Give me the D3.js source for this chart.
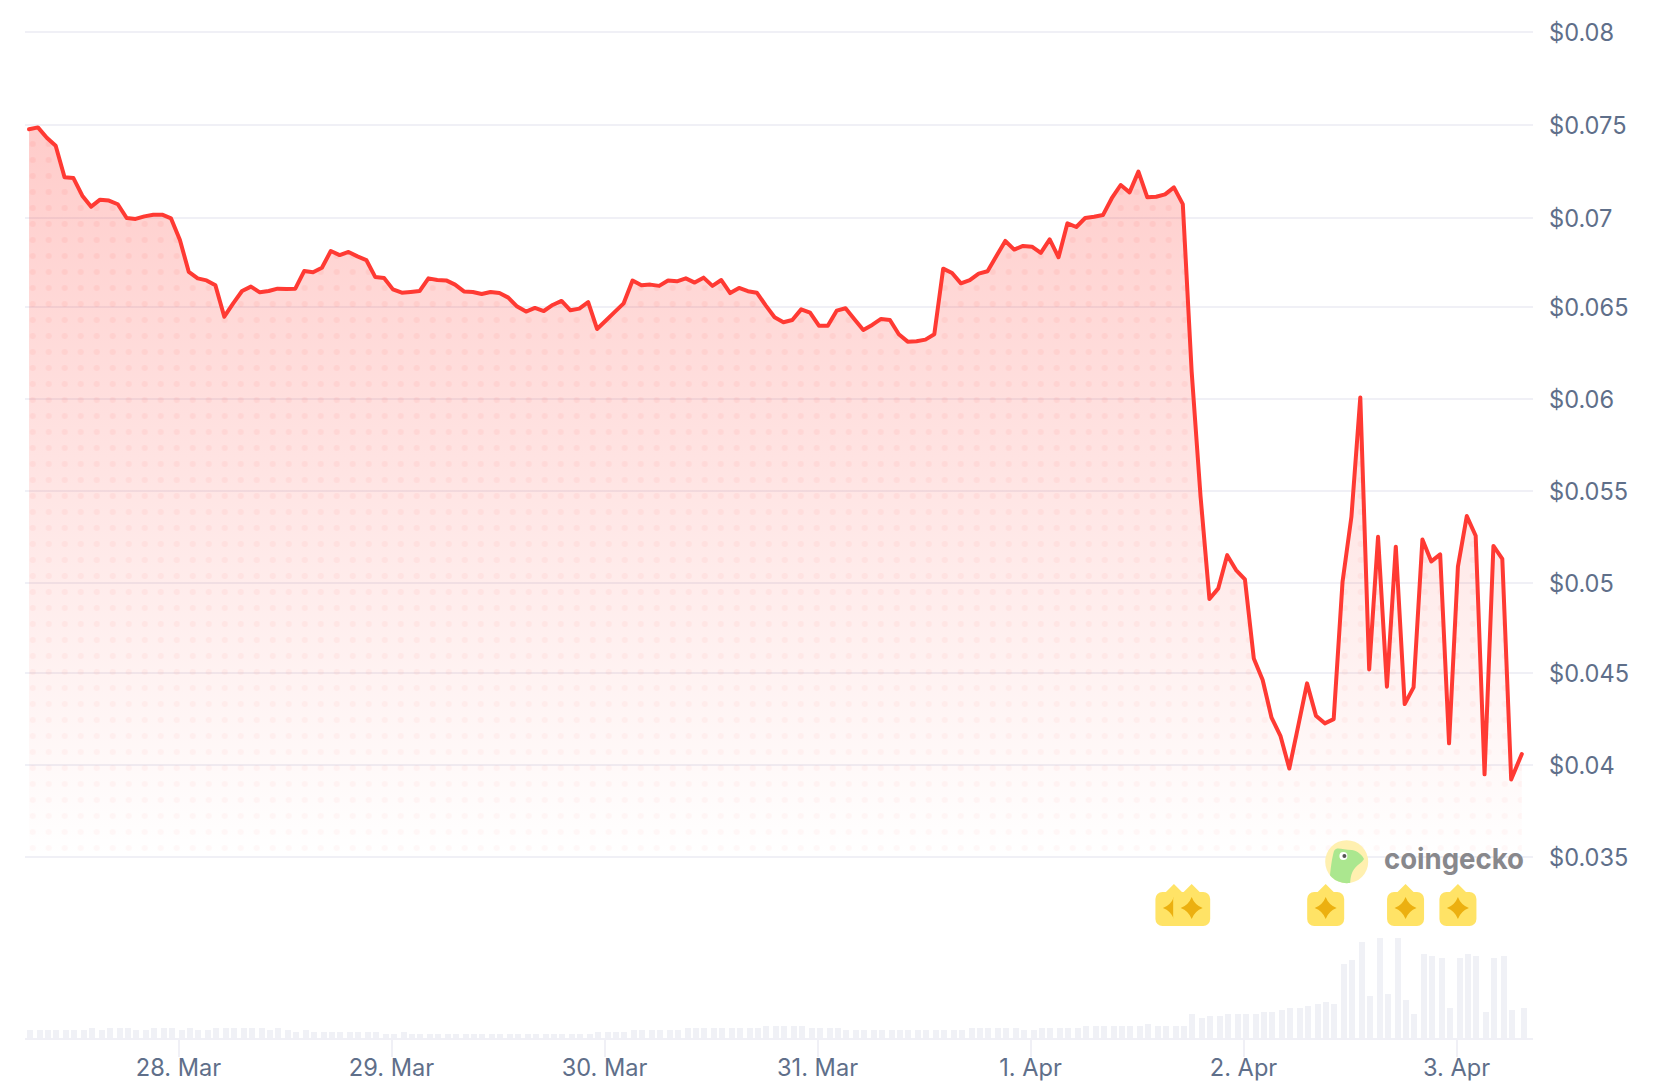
<!DOCTYPE html>
<html><head><meta charset="utf-8">
<script src="https://cdn.jsdelivr.net/npm/d3@7/dist/d3.min.js"></script>
<style>
html,body{margin:0;padding:0;background:#fff;overflow:hidden}
svg{display:block}
text{font-family:Inter,"Noto Sans",sans-serif}
</style></head><body>
<svg id="c" width="1674" height="1092"></svg>
<script>
const prices=[.07466,.07476,.07420,.07376,.07204,.07200,.07104,.07044,.07082,.07077,.07057,.06982,.06977,.06991,.07000,.07000,.06980,.06862,.06688,.06653,
.06642,.06615,.06444,.06517,.06584,.06608,.06577,.06584,.06597,.06595,.06597,.06693,.06686,.06711,.06802,.06780,.06797,.06773,.06753,.06661,
.06655,.06593,.06575,.06579,.06584,.06653,.06644,.06642,.06619,.06582,.06579,.06568,.06579,.06573,.06548,.06499,.06472,.06492,.06475,.06508,
.06530,.06479,.06488,.06523,.06377,.06423,.06470,.06517,.06641,.06615,.06619,.06612,.06641,.06637,.06653,.06630,.06657,.06612,.06644,.06573,
.06601,.06583,.06575,.06506,.06441,.06414,.06426,.06484,.06466,.06395,.06395,.06477,.06490,.06430,.06372,.06399,.06432,.06426,.06348,.06308,
.06310,.06319,.06348,.06706,.06682,.06626,.06644,.06679,.06692,.06775,.06857,.06810,.06830,.06826,.06792,.06866,.06768,.06953,.06933,.06982,
.06989,.06998,.07090,.07162,.07122,.07235,.07095,.07098,.07111,.07149,.07058,.06143,.05465,.04905,.04963,.05144,.05063,.05012,.04581,.04463,
.04258,.04159,.03981,.04212,.04445,.04269,.04227,.04250,.04999,.05353,.06004,.04521,.05244,.04427,.05190,.04332,.04423,.05230,.05110,.05148,
.04118,.05081,.05357,.05250,.03949,.05194,.05124,.03921,.04060];
const volumes=[8,8,8,8,8,8,8,10,8,10,10,10,8,8,10,10,10,8,10,8,8,10,10,10,10,10,10,8,10,8,6,8,6,6,6,6,6,6,6,6,4,4,6,4,4,4,4,4,4,4,4,4,4,4,4,4,4,4,
4,4,4,4,4,4,6,6,6,6,8,8,8,8,8,8,10,10,10,10,10,10,10,10,10,12,12,12,12,12,10,10,10,10,8,8,8,8,8,8,8,8,8,8,8,8,8,8,10,10,10,10,10,10,8,8,10,10,10,
10,10,12,12,12,12,12,
12,12,14,12,12,12,12,24,20,22,22,24,24,24,24,26,26,28,30,30,32,34,36,34,74,78,96,42,100,44,100,38,24,84,82,80,30,80,84,82,26,80,82,28,30];
const priceHours=prices.map((_,i)=>i<168?i:168.2);      // hours after the first sample
const firstSample=Date.UTC(2025,2,27,7,13);
const gridValues=[.08,.07491,.06987,.06498,.05996,.05496,.04994,.04503,.04001,.035];
const gridLabels=["$0.08","$0.075","$0.07","$0.065","$0.06","$0.055","$0.05","$0.045","$0.04","$0.035"];
const dayTicks=[28,29,30,31].map(d=>new Date(Date.UTC(2025,2,d))).concat([1,2,3].map(d=>new Date(Date.UTC(2025,3,d))));
const dayLabels=["28. Mar","29. Mar","30. Mar","31. Mar","1. Apr","2. Apr","3. Apr"];
const flagHoursAfterStart=[129,131,146.1,155.1,161];

const svg=d3.select("#c");
const time=h=>new Date(firstSample+h*3600e3);
const x=d3.scaleUtc().domain([dayTicks[0],dayTicks[6]]).range([178,1456]);
const y=d3.scaleLinear().domain([.035,.08]).range([856.7,31.3]);
const vol=d3.scaleLinear().domain([0,100]).range([1038,938]);
const pts=prices.map((p,i)=>({t:time(priceHours[i]),p,v:volumes[i]}));

const defs=svg.append("defs");
const grad=defs.append("linearGradient").attr("id","fillGrad").attr("gradientUnits","userSpaceOnUse")
 .attr("x1",0).attr("x2",0).attr("y1",y(d3.max(prices))).attr("y2",y(.035));
grad.append("stop").attr("offset",0).attr("stop-color","#ff3a33").attr("stop-opacity",.26);
grad.append("stop").attr("offset",1).attr("stop-color","#ff3a33").attr("stop-opacity",0);
const pat=defs.append("pattern").attr("id","dots").attr("patternUnits","userSpaceOnUse")
 .attr("x",24.7).attr("y",8).attr("width",16).attr("height",16);
pat.append("circle").attr("cx",8).attr("cy",8).attr("r",3).attr("fill","#ff3a33");
const fade=defs.append("linearGradient").attr("id","fadeGrad").attr("gradientUnits","userSpaceOnUse")
 .attr("x1",0).attr("x2",0).attr("y1",y(d3.max(prices))).attr("y2",y(.035));
fade.append("stop").attr("offset",0).attr("stop-color","#fff").attr("stop-opacity",.075);
fade.append("stop").attr("offset",1).attr("stop-color","#fff").attr("stop-opacity",.035);
const mask=defs.append("mask").attr("id","fadeMask").attr("maskUnits","userSpaceOnUse")
 .attr("x",0).attr("y",0).attr("width",1674).attr("height",1092);
mask.append("rect").attr("width",1674).attr("height",1092).attr("fill","url(#fadeGrad)");

const gridColor="#f0f0f6";
const labelColor="#5f6f8a";
// price axis with gridlines
const yAxis=d3.axisRight(y).tickValues(gridValues).tickFormat((d,i)=>gridLabels[i])
 .tickSizeInner(-1508).tickSizeOuter(0).tickPadding(16);
const gy=svg.append("g").attr("transform","translate(1533,0)").call(yAxis);
gy.select(".domain").remove();
gy.selectAll("line").attr("stroke",gridColor).attr("stroke-width",2).attr("shape-rendering","crispEdges");
gy.selectAll("text").attr("fill",labelColor).attr("font-size",23.6).attr("font-family","Inter").attr("dy",".38em");

// volume bars
svg.append("g").selectAll("rect").data(pts).join("rect")
 .attr("x",d=>2*Math.round((x(d.t)-2.75)/2)+1)
 .attr("width",6).attr("y",d=>vol(d.v)).attr("height",d=>vol(0)-vol(d.v)).attr("fill","#f0f1f6");

// time axis
const xAxis=d3.axisBottom(x).tickValues(dayTicks).tickFormat((d,i)=>dayLabels[i]).tickSizeInner(18).tickSizeOuter(0).tickPadding(2);
const gx=svg.append("g").attr("transform","translate(0,1039)").call(xAxis);
gx.select(".domain").remove();
gx.append("line").attr("x1",25).attr("x2",1533).attr("stroke",gridColor).attr("stroke-width",2).attr("shape-rendering","crispEdges");
gx.selectAll(".tick line").attr("stroke",gridColor).attr("stroke-width",2).attr("shape-rendering","crispEdges");
gx.selectAll("text").attr("fill",labelColor).attr("font-size",23.6).attr("font-family","Inter");

// price area, dots, line
const area=d3.area().x(d=>x(d.t)).y0(y(.035)).y1(d=>y(d.p));
const line=d3.line().x(d=>x(d.t)).y(d=>y(d.p));
svg.append("path").datum(pts).attr("d",area).attr("fill","url(#fillGrad)");
svg.append("path").datum(pts).attr("d",area).attr("fill","url(#dots)").attr("mask","url(#fadeMask)");
svg.append("path").datum(pts).attr("d",line).attr("fill","none").attr("stroke","#ff3a33").attr("stroke-width",4).attr("stroke-linejoin","round").attr("stroke-linecap","round");

// flags
const flags=svg.append("g").selectAll("g").data(flagHoursAfterStart).join("g").attr("transform",h=>`translate(${x(time(h))},0)`);
flags.append("path").attr("fill","#ffe366").attr("d",()=>{
 const p=d3.path(),w=18.5,r=7,t=892,b=926,tip=884,tw=8;
 p.moveTo(-tw,t);p.lineTo(0,tip);p.lineTo(tw,t);p.lineTo(w-r,t);p.arcTo(w,t,w,t+r,r);p.lineTo(w,b-r);p.arcTo(w,b,w-r,b,r);
 p.lineTo(-w+r,b);p.arcTo(-w,b,-w,b-r,r);p.lineTo(-w,t+r);p.arcTo(-w,t,-w+r,t,r);p.closePath();return p.toString();});
flags.append("path").attr("fill","#ecb010").attr("transform","translate(0,908)").attr("d",()=>{
 const s=11,q=3,p=d3.path();
 p.moveTo(0,-s);p.quadraticCurveTo(q,-q,s,0);p.quadraticCurveTo(q,q,0,s);p.quadraticCurveTo(-q,q,-s,0);p.quadraticCurveTo(-q,-q,0,-s);p.closePath();return p.toString();});

// logo
const logo=svg.append("g");
const clip=defs.append("clipPath").attr("id","logoClip");
clip.append("circle").attr("cx",1346.7).attr("cy",861.7).attr("r",21.5);
logo.append("circle").attr("cx",1346.7).attr("cy",861.7).attr("r",21.5).attr("fill","#fff0b0");
logo.append("path").attr("clip-path","url(#logoClip)").attr("fill","#abe78f")
 .attr("d","M1329,890 C1330,870 1332,858 1334,851 C1337,846 1342,850 1352,850 C1358,851 1362,855 1364,859 C1362,863 1358,864 1355,868 C1351,873 1350,878 1350,890 Z");
logo.append("circle").attr("cx",1343.4).attr("cy",856).attr("r",4).attr("fill","#fff");
logo.append("circle").attr("cx",1344.4).attr("cy",856).attr("r",2).attr("fill","#555");
logo.append("text").attr("x",1384).attr("y",869).attr("font-family","Inter").attr("font-weight",700).attr("font-size",29)
 .attr("fill","#88888c").attr("textLength",140).attr("lengthAdjust","spacingAndGlyphs").text("coingecko");
</script>
</body></html>
